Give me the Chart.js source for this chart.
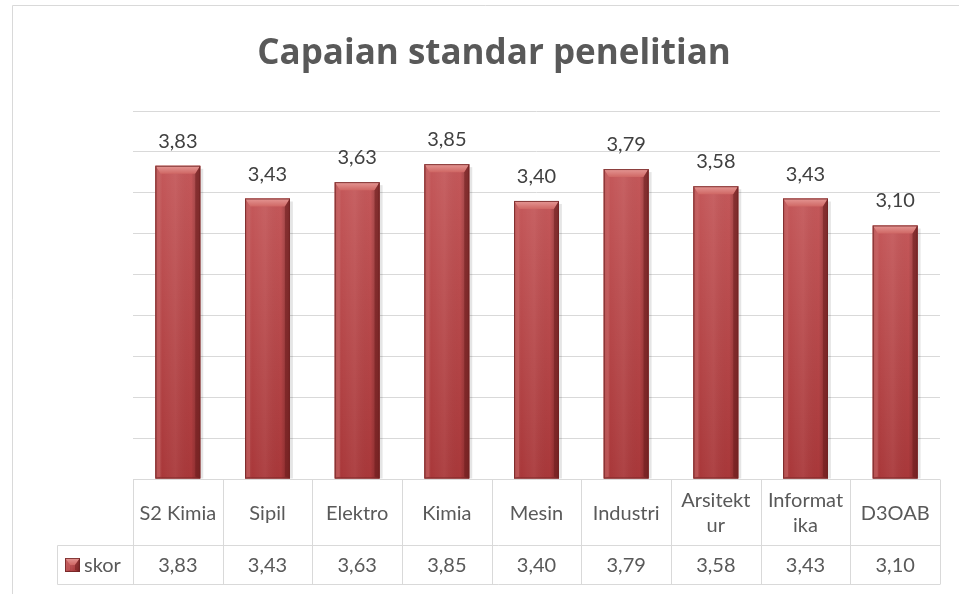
<!DOCTYPE html>
<html>
<head>
<meta charset="utf-8">
<title>Capaian standar penelitian</title>
<script src="https://cdn.jsdelivr.net/npm/chart.js@4.4.1/dist/chart.umd.min.js"></script>
<style>
  html, body { margin: 0; padding: 0; background: #ffffff; }
  #chart { display: block; }
</style>
</head>
<body>
<canvas id="chart" width="959" height="594"></canvas>
<script>
// Data
const categories = [['S2 Kimia'], ['Sipil'], ['Elektro'], ['Kimia'], ['Mesin'], ['Industri'], ['Arsitekt', 'ur'], ['Informat', 'ika'], ['D3OAB']];
const skor = [3.83, 3.43, 3.63, 3.85, 3.40, 3.79, 3.58, 3.43, 3.10];
const seriesName = 'skor';
const yMin = 0;
const yMax = 4.5;
const yStep = 0.5;

const FONT = 'Lato, "Open Sans", sans-serif';
const GRID = '#d9d9d9';
const TEXT = '#595959';

function fmt(v) {
    return v.toFixed(2).replace('.', ',');
}

// Excel-like bevelled bar look, painted over each bar element
function paintBar(ctx, left, top, right, bottom) {
    const w = right - left;
    const h = bottom - top;
    if (w <= 0 || h <= 0) return;

    let g = ctx.createLinearGradient(0, top, 0, bottom);
    g.addColorStop(0, '#c4585a');
    g.addColorStop(1, '#a9383a');
    ctx.fillStyle = g;
    ctx.fillRect(left, top, w, h);

    // horizontal shading
    g = ctx.createLinearGradient(left, 0, right, 0);
    g.addColorStop(0, 'rgba(90,20,20,0.25)');
    g.addColorStop(0.15, 'rgba(255,255,255,0.0)');
    g.addColorStop(0.45, 'rgba(255,255,255,0.06)');
    g.addColorStop(0.8, 'rgba(0,0,0,0.0)');
    g.addColorStop(1, 'rgba(60,10,10,0.35)');
    ctx.fillStyle = g;
    ctx.fillRect(left, top, w, h);

    const bt = Math.min(8, h / 2);
    const bs = Math.min(5, w / 3);

    // top bevel
    ctx.beginPath();
    ctx.moveTo(left, top);
    ctx.lineTo(right, top);
    ctx.lineTo(right - bs, top + bt);
    ctx.lineTo(left + bs, top + bt);
    ctx.closePath();
    g = ctx.createLinearGradient(0, top, 0, top + bt);
    g.addColorStop(0, '#e59895');
    g.addColorStop(1, '#cf6764');
    ctx.fillStyle = g;
    ctx.fill();

    // left bevel
    ctx.beginPath();
    ctx.moveTo(left, top);
    ctx.lineTo(left + bs, top + bt);
    ctx.lineTo(left + bs, bottom - 2);
    ctx.lineTo(left, bottom);
    ctx.closePath();
    ctx.fillStyle = 'rgba(200,100,100,0.55)';
    ctx.fill();

    // right bevel
    ctx.beginPath();
    ctx.moveTo(right, top);
    ctx.lineTo(right - bs, top + bt);
    ctx.lineTo(right - bs, bottom - 2);
    ctx.lineTo(right, bottom);
    ctx.closePath();
    ctx.fillStyle = 'rgba(110,30,30,0.55)';
    ctx.fill();

    // outline
    ctx.strokeStyle = 'rgba(110,35,35,0.8)';
    ctx.lineWidth = 1;
    ctx.strokeRect(left + 0.5, top + 0.5, w - 1, h - 1);
}

const barLook = {
    id: 'barLook',
    afterDatasetsDraw(chart) {
        const ctx = chart.ctx;
        const meta = chart.getDatasetMeta(0);
        ctx.save();
        meta.data.forEach((bar, i) => {
            const p = bar.getProps(['x', 'y', 'base', 'width'], true);
            const left = p.x - p.width / 2;
            const right = p.x + p.width / 2;
            // soft shadow
            ctx.fillStyle = 'rgba(0,0,0,0.10)';
            ctx.fillRect(right, p.y + 3, 3, p.base - p.y - 3);
            paintBar(ctx, left, p.y, right, p.base);

            // value label
            ctx.fillStyle = '#404040';
            ctx.font = '20px ' + FONT;
            ctx.textAlign = 'center';
            ctx.textBaseline = 'alphabetic';
            ctx.fillText(fmt(skor[i]), p.x, p.y - 18);
        });
        ctx.restore();
    }
};

// Frame and data table under the plot
const dataTable = {
    id: 'dataTable',
    afterDraw(chart) {
        const ctx = chart.ctx;
        const area = chart.chartArea;
        const n = categories.length;
        const colW = (area.right - area.left) / n;
        const top = Math.round(area.bottom) + 0.5;
        const mid = top + 66;
        const bot = mid + 39;
        const legL = 57.5;

        ctx.save();
        ctx.strokeStyle = GRID;
        ctx.lineWidth = 1;

        // outer frame of the chart object
        ctx.beginPath();
        ctx.moveTo(12.5, 594);
        ctx.lineTo(12.5, 5.5);
        ctx.lineTo(959, 5.5);
        ctx.stroke();

        ctx.beginPath();
        ctx.moveTo(area.left, top); ctx.lineTo(area.right, top);
        ctx.moveTo(legL, mid); ctx.lineTo(area.right, mid);
        ctx.moveTo(legL, bot); ctx.lineTo(area.right, bot);
        ctx.moveTo(legL, mid); ctx.lineTo(legL, bot);
        for (let i = 0; i <= n; i++) {
            const x = Math.round(area.left + i * colW) + 0.5;
            ctx.moveTo(x, top); ctx.lineTo(x, bot);
        }
        ctx.stroke();

        // legend key in the table
        const ky = (mid + bot) / 2 - 7;
        paintBar(ctx, 65, ky, 80, ky + 14);

        ctx.fillStyle = TEXT;
        ctx.font = '20px ' + FONT;
        ctx.textAlign = 'center';
        ctx.textBaseline = 'middle';
        const xs = chart.scales.x;
        categories.forEach((lines, i) => {
            const cx = xs.getPixelForValue(i);
            const lh = 25;
            const y0 = (top + mid) / 2 + 1 - (lines.length - 1) * lh / 2;
            lines.forEach((t, j) => ctx.fillText(t, cx, y0 + j * lh));
            ctx.fillText(fmt(skor[i]), cx, (mid + bot) / 2 + 1);
        });

        ctx.textAlign = 'left';
        ctx.fillText(seriesName, 84, (mid + bot) / 2 + 1);
        ctx.restore();
    }
};

new Chart(document.getElementById('chart'), {
    type: 'bar',
    data: {
        labels: categories,
        datasets: [{
            label: seriesName,
            data: skor,
            backgroundColor: '#b94846',
            borderWidth: 0,
            barPercentage: 0.5,
            categoryPercentage: 1.0
        }]
    },
    options: {
        responsive: false,
        animation: false,
        layout: {
            padding: { left: 48, right: 19, top: 0, bottom: 115 }
        },
        scales: {
            x: {
                display: false
            },
            y: {
                min: yMin,
                max: yMax,
                ticks: { display: false, stepSize: yStep },
                grid: { color: GRID, lineWidth: 1, drawTicks: false },
                border: { display: false },
                // room on the left for the legend cell of the table
                afterFit(scale) { scale.width = 85; }
            }
        },
        plugins: {
            legend: { display: false },
            tooltip: { enabled: false },
            title: {
                display: true,
                text: 'Capaian standar penelitian',
                color: TEXT,
                font: { family: '"Open Sans", Lato, sans-serif', size: 35, weight: 'bold', lineHeight: 1.2 },
                padding: { top: 33, bottom: 36 }
            }
        }
    },
    plugins: [barLook, dataTable]
});
</script>
</body>
</html>
